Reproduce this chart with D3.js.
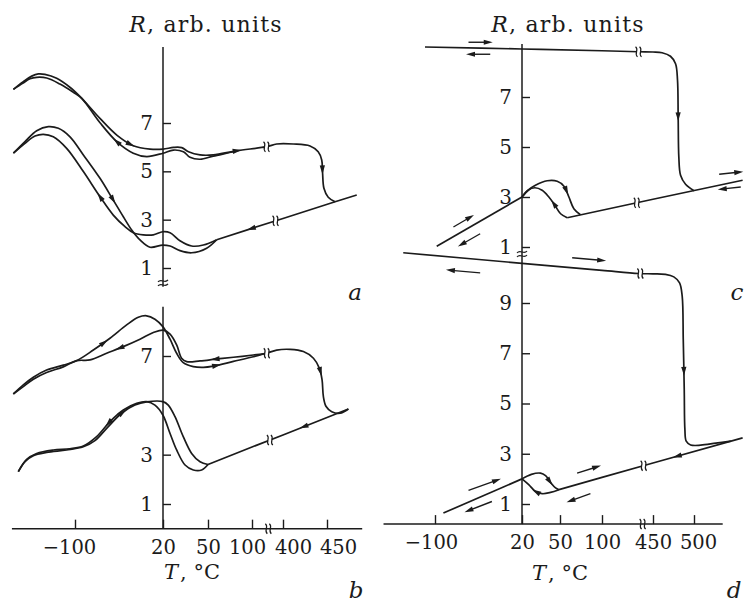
<!DOCTYPE html>
<html><head><meta charset="utf-8">
<script src="https://cdn.jsdelivr.net/npm/d3@7"></script>
<style>
html,body{margin:0;padding:0;background:#fff;}
svg{display:block;}
text{font-family:"DejaVu Serif","Liberation Serif",serif;fill:#1b1b1b;}
</style></head><body>
<svg id="chart" width="744" height="608"></svg>
<script>
// ================= DATA (T in °C, R in arb. units) =================
const leftTicksT  = [-100, 20, 50, 100, 400, 450];
const rightTicksT = [-100, 20, 50, 100, 450, 500];
const ticksA = [1, 3, 5, 7];
const ticksB = [1, 3, 7];
const ticksC = [1, 3, 5, 7];
const ticksD = [1, 3, 5, 7, 9];

// panel a
const aUpTop = [[-184,8.39],[-170.5,8.71],[-159,8.94],[-150,9.03],[-141,9.01],[-125,8.85],[-107,8.48],[-93,8.09],[-66,7.19],[-43,6.50],[-20.5,6.06],[2.3,5.92],[20,5.92],[27,5.99],[32.5,5.98],[37,5.81],[44.7,5.68],[56,5.68],[82.6,5.85],[242,6.02],[339,6.13],[411.7,6.13],[430.7,6.05],[440,5.81],[444,5.47],[445,4.92],[446.5,4.30],[451.4,3.93],[459.2,3.74]];
const aUpBot = [[-184,8.39],[-171.4,8.64],[-161.4,8.83],[-152.2,8.89],[-138.6,8.86],[-120.5,8.61],[-102.3,8.27],[-90.9,8.02],[-65.9,7.01],[-43.1,6.23],[-20.5,5.75],[-2.2,5.61],[20,5.75],[26.9,5.88],[33.6,5.81],[38,5.58],[44.7,5.50],[56,5.63],[78.8,5.81],[82.6,5.85]];
const aLine = [[483.8,4.02],[459.2,3.74],[400,3.05],[100,2.64],[59.9,2.17]];
const aLoOut = [[-184,5.75],[-168.2,6.23],[-152.2,6.68],[-136.4,6.85],[-122.7,6.78],[-106.8,6.43],[-88.6,5.68],[-65.9,4.71],[-47.8,3.81],[-34.1,3.12],[-22.7,2.57],[-11.4,2.16],[2.3,1.86],[19.6,1.95],[24.7,1.91],[31.3,1.72],[39.1,1.63],[49.1,1.82],[59.9,2.17]];
const aLoIn = [[-184,5.75],[-168.2,6.16],[-154.5,6.46],[-143.2,6.53],[-129.6,6.43],[-111.4,5.95],[-88.6,4.99],[-65.9,3.95],[-47.8,3.19],[-31.8,2.71],[-20.5,2.46],[-6.9,2.37],[6.8,2.37],[19.6,2.50],[24.7,2.46],[31.3,2.13],[39.1,1.91],[46.9,1.95],[59.9,2.17]];

// panel b
const bUpA = [[-184.1,5.46],[-170.5,5.83],[-156.8,6.14],[-138.7,6.43],[-116,6.63],[-97.8,6.81],[-75,7.24],[-52.3,7.72],[-29.6,8.26],[-13.7,8.57],[-2.3,8.63],[9,8.49],[19.8,8.19],[24.7,7.68],[29.1,7.11],[33.5,6.73],[40.2,6.57],[46.9,6.54],[56.1,6.59],[78.9,6.78],[112.9,6.97],[241.9,7.11],[338.7,7.24],[408.1,7.27],[423.2,7.18],[434.6,6.91],[441.4,6.50],[444.4,6.03],[445.9,5.35],[449,4.95],[455.4,4.74],[464.9,4.68],[474.3,4.85]];
const bUpB = [[-184.1,5.46],[-170.5,5.76],[-156.8,6.06],[-138.7,6.33],[-116,6.56],[-97.8,6.81],[-79.6,6.84],[-56.9,7.11],[-34.1,7.38],[-11.4,7.68],[6.8,7.95],[20.2,8.05],[24.7,7.89],[29.1,7.45],[32.4,6.91],[35.8,6.77],[44.7,6.80],[60,6.88],[78.9,6.95],[112.9,7.04],[241.9,7.11]];
const bLine = [[474.3,4.85],[400,3.80],[100,3.31],[50,2.60]];
const bLoFlat = [[-177.3,2.31],[-168.2,2.72],[-156.8,2.96],[-138.7,3.09],[-111.4,3.19],[-88.7,3.32],[-72.8,3.57],[-54.6,4.14],[-36.4,4.68],[-18.2,5.01],[-2.3,5.14],[19.8,5.15],[23.5,5.01],[28,4.54],[33.5,3.73],[39.1,3.05],[44.7,2.71],[50,2.60]];
const bLoPeak = [[-177.3,2.31],[-165.9,2.81],[-152.3,3.05],[-129.6,3.19],[-106.9,3.24],[-88.7,3.35],[-70.5,3.73],[-52.3,4.34],[-34.1,4.81],[-15.9,5.08],[-2.3,5.15],[9,5.01],[19.8,4.61],[24.7,3.86],[29.1,3.19],[34.7,2.58],[40.2,2.38],[45.8,2.38],[50,2.60]];

// panel c
const cTop = [[-113.8,9.00],[20,8.92],[100,8.85],[351.7,8.81],[450,8.80],[461.1,8.77],[471.3,8.63],[477.5,8.33],[479.9,7.67],[480.7,6.20],[481.5,4.60],[483.6,3.87],[489.7,3.51],[500,3.25]];
const cLine = [[58.6,2.17],[100,2.47],[450,2.91],[559.3,3.67]];
const cLeft = [[-97.6,1.03],[20,3.00]];
const cBumpUp = [[20,3.00],[25.3,3.29],[30.6,3.47],[39.9,3.65],[47.8,3.63],[54.7,3.43],[60.6,3.00],[66.5,2.53],[74.3,2.29]];
const cBumpLow = [[20,3.00],[24.8,3.27],[30.1,3.37],[35.9,3.27],[41.2,3.00],[46,2.67],[50.7,2.33],[58.6,2.17]];

// panel d
const dTop = [[-143.8,11.0],[20,10.58],[100,10.30],[351.7,10.175],[450,10.16],[465.2,10.14],[475.4,10.04],[482.4,9.80],[485.6,9.27],[486.9,7.55],[488.1,5.55],[488.9,3.96],[490.5,3.50],[495.9,3.35],[508.2,3.34],[526.6,3.42],[545,3.50]];
const dLine = [[49.2,1.57],[100,2.06],[450,2.63],[559.3,3.63]];
const dLeft = [[-88.4,0.64],[20,2.0]];
const dBumpUp = [[20,2.0],[27.4,2.18],[34.6,2.23],[38.6,2.13],[42.5,1.86],[46.5,1.64],[49.2,1.57]];
const dBumpLow = [[20,2.0],[25.3,1.77],[30.6,1.50],[35.9,1.41],[42.5,1.46],[49.2,1.57]];

// arrowheads on curves: [curve, T, R, direction]
const arrowsA = [["aUpTop",-24,6.13,1],["aUpBot",-43,6.23,-1],["aUpTop",83,5.85,1],["aUpTop",445,5.06,1],["aLine",99,2.66,1],["aLoIn",-64,3.98,-1],["aLoOut",-49,3.81,1]];
const arrowsB = [["bUpA",-59,7.5,1],["bUpB",-39,7.33,-1],["bUpB",58,6.88,-1],["bUpA",60,6.58,1],["bUpA",445,6.4,1],["bLine",424,4.11,1],["bLoPeak",-55,4.3,-1],["bLoFlat",-35,4.7,1]];
const arrowsC = [["cTop",481,6.2,1],["cBumpUp",58.6,3.27,1],["cBumpLow",45,2.73,-1]];
const arrowsD = [["dTop",487.5,6.28,1],["dLine",479.5,2.9,-1],["dBumpUp",42,1.9,1],["dBumpLow",31,1.48,-1]];

// free direction arrows: [from [T,R], to [T,R]]
const freeC = [[[-53.8,9.19],[-23.8,9.19]],[[-23.8,8.71],[-53.8,8.71]],[[-74.6,1.80],[-49.2,2.23]],[[-37.7,1.53],[-65.4,1.07]],[[530.7,3.91],[557,4.0]],[[557,3.40],[532,3.31]]];
const freeD = [[[64.5,10.80],[111.4,10.69]],[[-37.7,10.2],[-81.5,10.31]],[[-53.8,1.54],[-12.3,1.97]],[[-21.5,1.10],[-56.1,0.71]],[[70.4,2.23],[96,2.50]],[[86.2,1.41],[60.6,1.10]]];

// scale-break positions on curves: [curve, T]
const breaksA = [["aUpTop",242],["aLine",329]];
const breaksB = [["bUpA",242],["bLine",274]];
const breaksC = [["cTop",352],["cLine",340]];
const breaksD = [["dTop",363],["dLine",386]];

// ================= DRAWING =================
const INK = "#1b1b1b";
const svg = d3.select("#chart");
svg.append("rect").attr("width",744).attr("height",608).attr("fill","#fff");

const xLeft  = d3.scaleLinear().domain(leftTicksT).range([75,163,208,252,283,327]);
const xRight = d3.scaleLinear().domain(rightTicksT).range([435,522,560,602,653,694]);
const yA = d3.scaleLinear().domain([1,7]).range([268,123]);
const yB = d3.scaleLinear().domain([1,7]).range([504,356]);
const yC = d3.scaleLinear().domain([1,7]).range([247,97]);
const yD = d3.scaleLinear().domain([1,9]).range([504,303]);

const curveTable = {aUpTop,aUpBot,aLine,aLoOut,aLoIn,bUpA,bUpB,bLine,bLoFlat,bLoPeak,cTop,cLine,cLeft,cBumpUp,cBumpLow,dTop,dLine,dLeft,dBumpUp,dBumpLow};
const straight = new Set(["aLine","bLine","cLine","cLeft","dLine","dLeft"]);

const gCurves = svg.append("g");
const gMarks = svg.append("g");
const nodes = {};

function drawCurves(names, xs, ys){
  names.forEach(n=>{
    const gen = d3.line().x(d=>xs(d[0])).y(d=>ys(d[1]))
      .curve(straight.has(n) ? d3.curveLinear : d3.curveCatmullRom.alpha(0.5));
    nodes[n] = gCurves.append("path").attr("d", gen(curveTable[n]))
      .attr("fill","none").attr("stroke",INK).attr("stroke-width",1.7)
      .attr("stroke-linejoin","round").node();
  });
}

function nearest(node, px, py){
  const L = node.getTotalLength();
  let best=0, bd=Infinity;
  for(let l=0;l<=L;l+=0.4){
    const p=node.getPointAtLength(l);
    const d = py==null ? Math.abs(p.x-px) : (p.x-px)**2+(p.y-py)**2;
    if(d<bd){bd=d;best=l;}
  }
  const p=node.getPointAtLength(best);
  const p1=node.getPointAtLength(Math.max(0,best-2)), p2=node.getPointAtLength(Math.min(L,best+2));
  return {x:p.x,y:p.y,ang:Math.atan2(p2.y-p1.y,p2.x-p1.x)*180/Math.PI};
}

function head(x,y,ang){
  gMarks.append("path").attr("d","M4.5,0 L-4.5,-2.6 L-4.5,2.6 Z")
    .attr("transform",`translate(${x},${y}) rotate(${ang})`).attr("fill",INK);
}

function drawArrows(list, xs, ys){
  list.forEach(([n,T,R,dir])=>{
    const p = nearest(nodes[n], xs(T), ys(R));
    head(p.x,p.y,p.ang+(dir<0?180:0));
  });
}

function drawFree(list, xs, ys){
  list.forEach(([a,b])=>{
    const x1=xs(a[0]),y1=ys(a[1]),x2=xs(b[0]),y2=ys(b[1]);
    const ang=Math.atan2(y2-y1,x2-x1);
    gMarks.append("line").attr("x1",x1).attr("y1",y1).attr("x2",x2-Math.cos(ang)*3).attr("y2",y2-Math.sin(ang)*3)
      .attr("stroke",INK).attr("stroke-width",1.4);
    head(x2-Math.cos(ang)*2,y2-Math.sin(ang)*2,ang*180/Math.PI);
  });
}

function vBreak(x,y){ // break mark across a near-horizontal line
  gMarks.append("rect").attr("x",x-1.8).attr("y",y-3.5).attr("width",3.6).attr("height",7).attr("fill","#fff");
  [-2,2].forEach(dx=>{
    gMarks.append("path").attr("d",`M${x+dx-1},${y-5} C${x+dx+3},${y-2} ${x+dx-3},${y+2} ${x+dx+1},${y+5}`)
      .attr("fill","none").attr("stroke",INK).attr("stroke-width",1.2);
  });
}
function hBreak(x,y){ // break mark across a vertical line
  gMarks.append("rect").attr("x",x-3.5).attr("y",y-1.8).attr("width",7).attr("height",3.6).attr("fill","#fff");
  [-2,2].forEach(dy=>{
    gMarks.append("path").attr("d",`M${x-5},${y+dy+1} C${x-2},${y+dy-3} ${x+2},${y+dy+3} ${x+5},${y+dy-1}`)
      .attr("fill","none").attr("stroke",INK).attr("stroke-width",1.2);
  });
}
function drawBreaks(list, xs){
  list.forEach(([n,T])=>{ const p=nearest(nodes[n], xs(T), null); vBreak(p.x,p.y); });
}

// curves
drawCurves(["aUpTop","aUpBot","aLine","aLoOut","aLoIn"], xLeft, yA);
drawCurves(["bUpA","bUpB","bLine","bLoFlat","bLoPeak"], xLeft, yB);
drawCurves(["cTop","cLine","cLeft","cBumpUp","cBumpLow"], xRight, yC);
drawCurves(["dTop","dLine","dLeft","dBumpUp","dBumpLow"], xRight, yD);

drawArrows(arrowsA, xLeft, yA);
drawArrows(arrowsB, xLeft, yB);
drawArrows(arrowsC, xRight, yC);
drawArrows(arrowsD, xRight, yD);
drawFree(freeC, xRight, yC);
drawFree(freeD, xRight, yD);
drawBreaks(breaksA, xLeft);
drawBreaks(breaksB, xLeft);
drawBreaks(breaksC, xRight);
drawBreaks(breaksD, xRight);

// axes
const gAx = svg.append("g");
function vline(x,y1,y2){ gAx.append("line").attr("x1",x).attr("x2",x).attr("y1",y1).attr("y2",y2).attr("stroke",INK).attr("stroke-width",1.5); }
function hline(x1,x2,y){ gAx.append("line").attr("x1",x1).attr("x2",x2).attr("y1",y).attr("y2",y).attr("stroke",INK).attr("stroke-width",1.5); }

function yAxis(ys, ticks, x){
  const g = gAx.append("g").attr("transform",`translate(${x},0)`)
    .call(d3.axisLeft(ys).tickValues(ticks).tickSizeInner(-8).tickSizeOuter(0).tickPadding(10).tickFormat(d3.format("d")));
  g.attr("font-family",null).attr("font-size",null);
  g.select(".domain").remove();
  g.selectAll(".tick line").attr("stroke",INK).attr("stroke-width",1.4);
  g.selectAll(".tick text").attr("font-size",20).attr("fill",INK);
}
function xAxis(xs, ticks, y, offsets){
  const g = gAx.append("g").attr("transform",`translate(0,${y})`)
    .call(d3.axisBottom(xs).tickValues(ticks).tickSizeInner(-9).tickSizeOuter(0).tickPadding(11)
      .tickFormat(d=> d<0 ? "\u2212"+Math.abs(d) : String(d)));
  g.attr("font-family",null).attr("font-size",null);
  g.select(".domain").remove();
  g.selectAll(".tick line").attr("stroke",INK).attr("stroke-width",1.4);
  g.selectAll(".tick text").attr("font-size",19.5).attr("fill",INK).attr("dx",d=>offsets[d]||0);
}

// left: panels a and b share x
const axL = xLeft(20), axR = xRight(20);
vline(axL, yA(10.14), yA(0.22));
hBreak(axL, yA(0.38));
yAxis(yA, ticksA, axL);
vline(axL, yB(9.0), yB(0));
yAxis(yB, ticksB, axL);
hline(xLeft(-186), xLeft(490), yB(0));
xAxis(xLeft, leftTicksT, yB(0), {"-100":-6, "100":-5, "400":10, "450":11});
vBreak(xLeft(258), yB(0));

// right: panels c and d share axis
vline(axR, yC(9.12), yD(0.2));
hBreak(axR, yC(0.72));
yAxis(yC, ticksC, axR);
yAxis(yD, ticksD, axR);
hline(xRight(-171), xRight(535), yD(0.2));
xAxis(xRight, rightTicksT, yD(0.2), {"-100":-4, "500":4});
vBreak(xRight(379), yD(0.2));

// titles & labels
function title(x,y){
  const t = svg.append("text").attr("x",x).attr("y",y).attr("text-anchor","middle").attr("font-size",22).attr("letter-spacing",1.2);
  t.append("tspan").attr("font-style","italic").text("R");
  t.append("tspan").text(", arb. units");
}
title(206, 32);
title(568, 32);
function tLabel(x,y){
  const t = svg.append("text").attr("x",x).attr("y",y).attr("text-anchor","middle").attr("font-size",21);
  t.append("tspan").attr("font-style","italic").text("T");
  t.append("tspan").attr("dx",2).text(", \u00B0C");
}
tLabel(192, 579);
tLabel(560, 580);
[["a",355,300,23],["b",356,598,23],["c",737,300,23],["d",734,598,23]].forEach(([s,x,y,f])=>{
  svg.append("text").attr("x",x).attr("y",y).attr("text-anchor","middle").attr("font-size",f).attr("font-style","italic").text(s);
});
</script>
</body></html>
